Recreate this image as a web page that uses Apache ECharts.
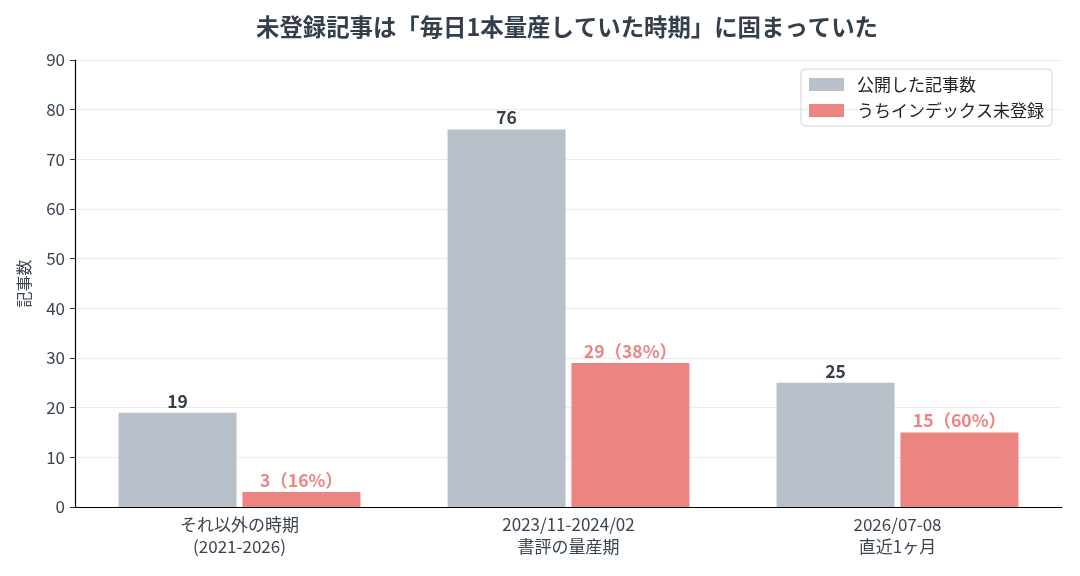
<!DOCTYPE html>
<html>
<head>
<meta charset="utf-8">
<script src="https://cdn.jsdelivr.net/npm/echarts@6/dist/echarts.min.js"></script>
<style>
html, body { margin: 0; padding: 0; background: #fff; }
#chart { width: 1080px; height: 576px; }
</style>
</head>
<body>
<div id="chart"></div>
<script>
// データ
var categories = ['それ以外の時期\n(2021-2026)', '2023/11-2024/02\n書評の量産期', '2026/07-08\n直近1ヶ月'];
var published = [19, 76, 25];
var notIndexed = [3, 29, 15];
var notIndexedPct = [16, 38, 60];
var seriesNames = ['公開した記事数', 'うちインデックス未登録'];

var font = '"Noto Sans CJK JP", "Noto Sans", sans-serif';
var textColor = '#3a4550';

var chart = echarts.init(document.getElementById('chart'));
var option = {
    animation: false,
    textStyle: { fontFamily: font },
    title: {
        text: '未登録記事は「毎日1本量産していた時期」に固まっていた',
        left: 251,
        top: 10,
        textStyle: { fontSize: 23.4, fontWeight: 'bold', color: '#333f4a', fontFamily: font }
    },
    legend: {
        orient: 'vertical',
        right: 28,
        top: 69,
        itemWidth: 35,
        itemHeight: 13,
        itemGap: 9,
        padding: [7, 8, 7, 8],
        borderColor: '#d4d4d4',
        borderWidth: 1,
        borderRadius: 4,
        icon: 'rect',
        textStyle: { fontSize: 17, color: '#222', fontFamily: font, padding: [0, 0, 0, 8] },
        data: seriesNames
    },
    grid: { left: 75, right: 18, top: 60, bottom: 69 },
    xAxis: {
        type: 'category',
        data: categories,
        axisLine: { lineStyle: { color: '#000', width: 1.2 } },
        axisTick: { alignWithLabel: true, length: 5, lineStyle: { color: '#333' } },
        axisLabel: { fontSize: 17, color: textColor, lineHeight: 22, margin: 7, fontFamily: font }
    },
    yAxis: {
        type: 'value',
        min: 0,
        max: 90,
        interval: 10,
        name: '記事数',
        nameLocation: 'middle',
        nameGap: 43,
        nameRotate: 90,
        nameTextStyle: { fontSize: 16, color: textColor, fontFamily: font },
        axisLine: { show: true, lineStyle: { color: '#000', width: 1.2 } },
        axisTick: { show: true, length: 5, lineStyle: { color: '#333' } },
        axisLabel: { fontSize: 17, color: textColor, margin: 10, fontFamily: font },
        splitLine: { lineStyle: { color: '#ebebeb' } }
    },
    series: [
        {
            name: seriesNames[0],
            type: 'bar',
            data: published,
            barWidth: 118,
            barGap: '5%',
            itemStyle: { color: '#b8c0ca' },
            label: {
                show: true,
                position: 'top',
                distance: 3,
                fontSize: 17.5,
                fontWeight: 'bold',
                color: '#333f4a',
                fontFamily: font
            }
        },
        {
            name: seriesNames[1],
            type: 'bar',
            data: notIndexed,
            barWidth: 118,
            itemStyle: { color: '#ec8482' },
            label: {
                show: true,
                position: 'top',
                distance: 3,
                fontSize: 17.5,
                fontWeight: 'bold',
                color: '#ec8482',
                fontFamily: font,
                formatter: function (p) {
                    return p.value + '（' + notIndexedPct[p.dataIndex] + '%）';
                }
            }
        }
    ]
};
chart.setOption(option);
</script>
</body>
</html>
